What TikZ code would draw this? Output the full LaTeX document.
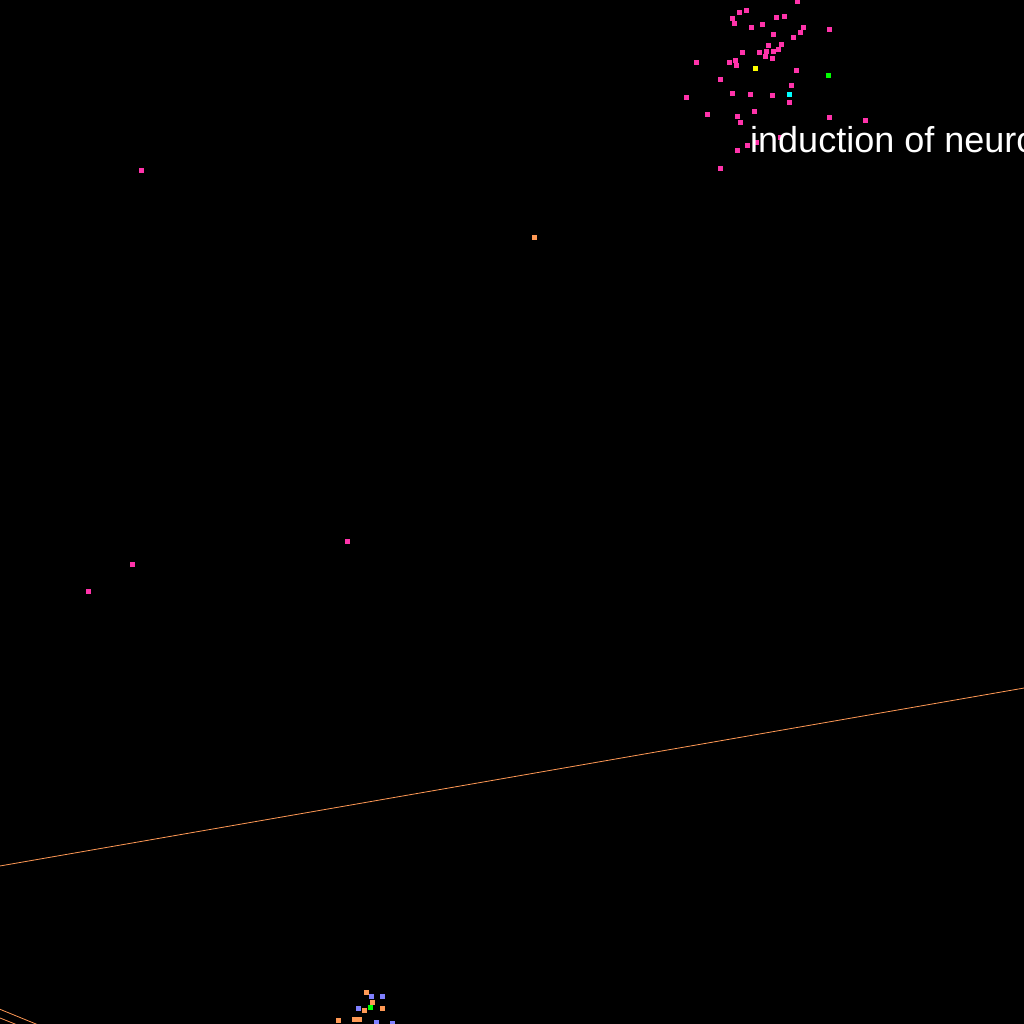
\documentclass[tikz,border=0pt]{standalone}
\usepackage{fontspec}
\setmainfont{Liberation Sans}
\definecolor{ptpink}{RGB}{255,51,170}
\definecolor{ptorange}{RGB}{255,153,85}
\definecolor{ptblue}{RGB}{128,128,255}
\definecolor{ptgreen}{RGB}{0,255,0}
\definecolor{ptyellow}{RGB}{255,255,0}
\definecolor{ptcyan}{RGB}{0,255,255}
\tikzset{
  mk/.style={fill=#1},
  edgeline/.style={draw=ptorange,line width=0.8pt},
  lbl/.style={text=white,font=\fontsize{36}{40}\selectfont,anchor=base west,inner sep=0pt}
}
\begin{document}
\begin{tikzpicture}[x=1pt,y=-1pt]

		\fill[black] (0,0) rectangle (1024,1024);
		\useasboundingbox (0,0) rectangle (1024,1024);
		\clip (0,0) rectangle (1024,1024);

		% links
		\draw[edgeline] (-10,867.7)--(1034,686.3);
		\draw[edgeline] (-10,1005.2)--(60,1033.8);
		\draw[edgeline] (-10,1014)--(40,1034);

		% pink cluster
		\foreach \x/\y in {797.7/2, 746.3/10.3, 739.3/12.3, 732.3/18.3, 734.3/23.3, 776.3/17.3, 784.3/16.3,
			751.3/27.3, 762.3/24.3, 803.3/27.3, 800.3/32.3, 829.3/29.3, 793.3/37.3, 773.3/34.3,
			768.3/45.3, 781.3/44.3, 778.3/49.3, 773.3/51.3, 766.3/51.3, 759.3/52.3, 742.3/52.3,
			765.3/56.7, 772.3/58.3, 696.3/62.3, 729.3/62.3, 735.3/60.3, 736.7/65.7, 796.3/70.3,
			720.3/79.3, 791.3/85.3, 686.3/97.3, 732.3/93.3, 750.3/94.3, 772.3/95.3, 789.3/102.3,
			754.3/111.3, 707.3/114.3, 737.3/116.3, 740.3/122.3, 829.3/117.3, 865.3/120.3,
			747.3/145.3, 737.3/150.3, 756.3/142.3, 780/138, 720.3/168.3,
			141/171, 347/541, 132/564, 88/591}
		{
			\fill[mk=ptpink] (\x-2.5,\y-2.5) rectangle ++(5,5);
		}
		\fill[mk=ptyellow] (755.3-2.5,68.3-2.5) rectangle ++(5,5);
		\fill[mk=ptgreen] (828.3-2.5,75.3-2.5) rectangle ++(5,5);
		\fill[mk=ptcyan] (789.3-2.5,94.3-2.5) rectangle ++(5,5);

		% bottom cluster
		\foreach \x/\y in {534/237, 366.3/992.3, 372.3/1002.3, 364.3/1010.3, 382.3/1008.3,
			338.3/1020.3, 354.3/1019.3, 359.3/1019.3}
		{
			\fill[mk=ptorange] (\x-2.5,\y-2.5) rectangle ++(5,5);
		}
		\foreach \x/\y in {371.3/996.3, 382.3/996.3, 358.3/1008.3, 376.3/1022.3, 392.3/1023.3}
		{
			\fill[mk=ptblue] (\x-2.5,\y-2.5) rectangle ++(5,5);
		}
		\fill[mk=ptgreen] (370.3-2.5,1007.3-2.5) rectangle ++(5,5);

		\node[lbl] (label) at (750,153) {induction of neuro};

	\end{tikzpicture}
\end{document}
